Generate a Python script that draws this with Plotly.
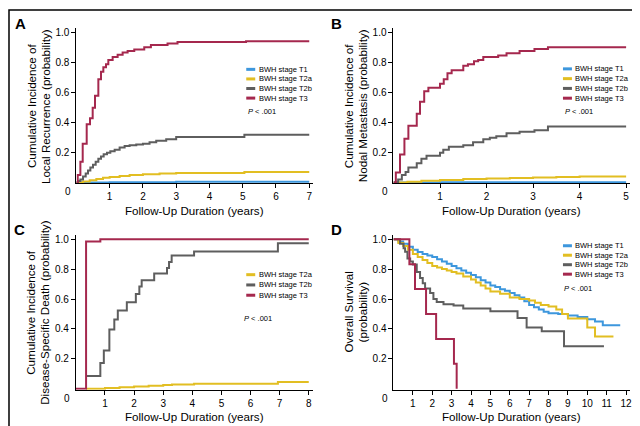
import plotly.graph_objects as go

# ---------------- data ----------------
# Panel A: cumulative incidence of local recurrence
a_t1_x = [0, 1.0, 3.0, 7.0]
a_t1_y = [0, 0.003, 0.005, 0.005]
a_t2a_x = [0, 0.2, 0.4, 0.6, 0.8, 1.0, 1.3, 1.6, 2.0, 2.5, 3.0, 5.05, 7.0]
a_t2a_y = [0, 0.008, 0.016, 0.024, 0.032, 0.038, 0.044, 0.05, 0.055, 0.06, 0.064, 0.07, 0.07]
a_t2b_x = [0, 0.05, 0.12, 0.2, 0.28, 0.35, 0.42, 0.5, 0.58, 0.66, 0.74, 0.82, 0.92, 1.02,
           1.15, 1.3, 1.45, 1.6, 1.8, 2.0, 2.2, 2.4, 2.7, 3.0, 5.05, 7.0]
a_t2b_y = [0, 0.01, 0.02, 0.04, 0.06, 0.08, 0.10, 0.12, 0.14, 0.16, 0.175, 0.19, 0.20, 0.21,
           0.22, 0.235, 0.245, 0.25, 0.255, 0.26, 0.27, 0.28, 0.29, 0.305, 0.32, 0.32]
a_t3_x = [0, 0.04, 0.12, 0.19, 0.31, 0.41, 0.49, 0.56, 0.66, 0.74, 0.81, 0.89, 0.96, 1.09,
          1.24, 1.39, 1.54, 1.74, 2.04, 2.24, 2.74, 3.04, 5.1, 7.0]
a_t3_y = [0, 0.05, 0.14, 0.26, 0.39, 0.43, 0.50, 0.58, 0.69, 0.74, 0.77, 0.79, 0.82, 0.84,
          0.855, 0.87, 0.88, 0.89, 0.905, 0.92, 0.93, 0.94, 0.945, 0.945]

# Panel B: cumulative incidence of nodal metastasis
b_t1_x = [0, 1.0, 5.0]
b_t1_y = [0, 0.003, 0.003]
b_t2a_x = [0, 0.3, 0.6, 1.0, 1.5, 2.0, 2.5, 3.0, 3.5, 4.0, 5.0]
b_t2a_y = [0, 0.006, 0.012, 0.018, 0.024, 0.028, 0.031, 0.034, 0.037, 0.04, 0.04]
b_t2b_x = [0, 0.1, 0.18, 0.26, 0.32, 0.5, 0.6, 0.71, 1.0, 1.07, 1.19, 1.5, 1.71, 1.93,
           2.07, 2.21, 2.43, 2.71, 3.03, 3.32, 5.0]
b_t2b_y = [0, 0.02, 0.05, 0.07, 0.10, 0.13, 0.16, 0.18, 0.20, 0.22, 0.24, 0.25, 0.27, 0.29,
           0.30, 0.31, 0.33, 0.34, 0.35, 0.375, 0.375]
b_t3_x = [0, 0.05, 0.14, 0.235, 0.32, 0.5, 0.57, 0.66, 0.75, 1.0, 1.08, 1.16, 1.25, 1.5,
          1.6, 1.73, 1.82, 1.93, 2.25, 2.43, 2.71, 3.03, 3.32, 5.0]
b_t3_y = [0, 0.067, 0.187, 0.293, 0.38, 0.46, 0.54, 0.61, 0.633, 0.66, 0.69, 0.73, 0.75, 0.78,
          0.79, 0.81, 0.82, 0.84, 0.85, 0.865, 0.88, 0.893, 0.905, 0.905]

# Panel C: cumulative incidence of disease-specific death
c_t2a_x = [0.35, 1.0, 1.5, 2.0, 2.5, 3.0, 3.3, 4.06, 6.94, 8.0]
c_t2a_y = [0, 0.005, 0.01, 0.015, 0.02, 0.025, 0.029, 0.033, 0.045, 0.045]
c_t2b_x = [0.35, 0.84, 0.96, 1.15, 1.32, 1.44, 1.75, 2.06, 2.18, 2.26, 2.69, 3.13, 3.2,
           3.29, 4.06, 6.94, 8.0]
c_t2b_y = [0.085, 0.173, 0.256, 0.396, 0.463, 0.523, 0.578, 0.633, 0.683, 0.725, 0.77, 0.807,
           0.847, 0.891, 0.918, 0.973, 0.973]
c_t3_x = [0, 0.35, 0.84, 8.0]
c_t3_y = [0, 0.985, 1.0, 1.0]

# Panel D: overall survival
d_t1_x = [0, 0.25, 0.5, 0.75, 1.0, 1.25, 1.5, 1.75, 2.0, 2.25, 2.5, 2.75, 3.0, 3.25, 3.5,
          3.75, 4.0, 4.25, 4.5, 4.75, 5.0, 5.25, 5.5, 5.75, 6.0, 6.25, 6.5, 6.75, 7.0, 7.25,
          7.5, 7.75, 8.0, 8.5, 9.0, 9.5, 10.0, 10.4, 10.8, 11.7]
d_t1_y = [1.0, 0.985, 0.97, 0.95, 0.93, 0.915, 0.9, 0.89, 0.88, 0.865, 0.85, 0.835, 0.82,
          0.805, 0.79, 0.775, 0.76, 0.745, 0.725, 0.71, 0.69, 0.68, 0.665, 0.655, 0.64, 0.625,
          0.61, 0.585, 0.56, 0.545, 0.53, 0.515, 0.505, 0.5, 0.49, 0.48, 0.465, 0.45, 0.425,
          0.425]
d_t2a_x = [0, 0.25, 0.5, 0.75, 1.0, 1.25, 1.5, 1.75, 2.0, 2.25, 2.5, 2.75, 3.0, 3.25, 3.6,
           4.0, 4.25, 4.5, 4.75, 5.0, 5.5, 6.0, 6.5, 7.0, 7.3, 7.6, 8.0, 8.4, 8.7, 9.0, 9.8,
           10.0, 10.4, 11.35]
d_t2a_y = [1.0, 0.975, 0.955, 0.93, 0.9, 0.88, 0.86, 0.84, 0.82, 0.81, 0.8, 0.79, 0.78,
           0.77, 0.75, 0.73, 0.71, 0.69, 0.67, 0.65, 0.635, 0.61, 0.6, 0.59, 0.575, 0.56,
           0.55, 0.53, 0.5, 0.47, 0.47, 0.41, 0.35, 0.35]
d_t2b_x = [0, 0.34, 0.52, 0.6, 0.72, 0.86, 1.0, 1.2, 1.37, 1.51, 1.63, 1.89, 2.06, 2.23,
           2.58, 3.1, 3.6, 5.0, 6.4, 6.87, 7.65, 8.8, 10.86]
d_t2b_y = [1.0, 0.97, 0.94, 0.916, 0.87, 0.85, 0.83, 0.78, 0.74, 0.705, 0.67, 0.64, 0.60,
           0.58, 0.565, 0.556, 0.536, 0.518, 0.473, 0.41, 0.385, 0.285, 0.285]
d_t3_x = [0, 0.82, 1.11, 1.68, 2.2, 3.12, 3.26]
d_t3_y = [1.0, 0.833, 0.667, 0.5, 0.333, 0.167, 0.0]

x_ticks_a = [1, 2, 3, 4, 5, 6, 7]
x_ticks_b = [1, 2, 3, 4, 5]
x_ticks_c = [1, 2, 3, 4, 5, 6, 7, 8]
x_ticks_d = [1, 2, 3, 4, 5, 6, 7, 8, 9, 10, 11, 12]
y_ticks = [0.2, 0.4, 0.6, 0.8, 1.0]
y_tick_text = ["0.2", "0.4", "0.6", "0.8", "1.0"]

names = {"t1": "BWH stage T1", "t2a": "BWH stage T2a", "t2b": "BWH stage T2b", "t3": "BWH stage T3"}
colors = {"t1": "#3D97DD", "t2a": "#E2BE22", "t2b": "#5E5E5E", "t3": "#A5284E"}

# ---------------- layout geometry ----------------
W, H = 640, 426
SANS = "Liberation Sans, Arial, Helvetica, sans-serif"


def px(x):
    return x / W


def py(y):
    return 1 - y / H


panels = [
    dict(key="a", series=[("t1", a_t1_x, a_t1_y), ("t2a", a_t2a_x, a_t2a_y),
                          ("t2b", a_t2b_x, a_t2b_y), ("t3", a_t3_x, a_t3_y)],
         x0=68.6, sx=33.37, xr=[0, 7.1], y0=174, sy=150, xt=x_ticks_a,
         ytitle=["Cumulative Incidence of", "Local Recurrence (probability)"],
         letter="A", lpos=(12.8, 14.2), leg=(239, 60.5, 9.6), pval=(239, 102.5)),
    dict(key="b", series=[("t1", b_t1_x, b_t1_y), ("t2a", b_t2a_x, b_t2a_y),
                          ("t2b", b_t2b_x, b_t2b_y), ("t3", b_t3_x, b_t3_y)],
         x0=386.7, sx=46.67, xr=[0, 5.08], y0=174, sy=150, xt=x_ticks_b,
         ytitle=["Cumulative Incidence of", "Nodal Metastasis (probability)"],
         letter="B", lpos=(330, 14.2), leg=(556.7, 60, 9.8), pval=(556.7, 103)),
    dict(key="c", series=[("t2a", c_t2a_x, c_t2a_y), ("t2b", c_t2b_x, c_t2b_y),
                          ("t3", c_t3_x, c_t3_y)],
         x0=68.1, sx=29.2, xr=[0, 8.15], y0=380.7, sy=150, xt=x_ticks_c,
         ytitle=["Cumulative Incidence of", "Disease-Specific Death (probability)"],
         letter="C", lpos=(11.7, 221), leg=(239, 266.3, 10.3), pval=(235, 310.7)),
    dict(key="d", series=[("t1", d_t1_x, d_t1_y), ("t2a", d_t2a_x, d_t2a_y),
                          ("t2b", d_t2b_x, d_t2b_y), ("t3", d_t3_x, d_t3_y)],
         x0=386.7, sx=19.44, xr=[0, 12.2], y0=380.7, sy=150, xt=x_ticks_d,
         ytitle=["Overall Survival", "(probability)"],
         letter="D", lpos=(330, 221), leg=(556.7, 237.3, 9.5), pval=(556, 279.7)),
]

fig = go.Figure()
annotations = []
shapes = []
yr = [-0.006, 1.03]


def note(x, y, text, font, xanchor="center", angle=0):
    return dict(x=px(x), y=py(y), xref="paper", yref="paper", text=text, showarrow=False,
                xanchor=xanchor, yanchor="middle", textangle=angle, font=font)


f_tick = dict(family=SANS, size=10, color="black")
f_title = dict(family=SANS, size=11.6, color="black")
f_leg = dict(family=SANS, size=7.5, color="black")

for i, p in enumerate(panels):
    n = "" if i == 0 else str(i + 1)
    xa, ya = "x" + n, "y" + n
    for code, xs, ys in p["series"]:
        fig.add_trace(go.Scatter(x=xs, y=ys, mode="lines", line_shape="hv",
                                 line=dict(color=colors[code], width=2),
                                 name=names[code], showlegend=False,
                                 xaxis=xa, yaxis=ya, hoverinfo="skip"))
    xdom = [px(p["x0"] + p["xr"][0] * p["sx"]), px(p["x0"] + p["xr"][1] * p["sx"])]
    ydom = [py(p["y0"] - yr[0] * p["sy"]), py(p["y0"] - yr[1] * p["sy"])]
    common = dict(showline=True, linecolor="black", linewidth=1, ticks="outside",
                  ticklen=4, tickwidth=1, tickcolor="black", showgrid=False,
                  zeroline=False, tickfont=f_tick, fixedrange=True)
    fig.update_layout(**{
        "xaxis" + n: dict(domain=xdom, range=p["xr"], anchor=ya, tickvals=p["xt"], **common),
        "yaxis" + n: dict(domain=ydom, range=yr, anchor=xa, tickvals=y_ticks,
                          ticktext=y_tick_text, **common),
    })
    # corner "0"
    annotations.append(note(p["x0"] - 8.5, p["y0"] + 9.3, "0", f_tick))
    # x title
    xmid = p["x0"] + (p["xr"][1] * p["sx"]) / 2
    annotations.append(note(xmid, p["y0"] + 28, "Follow-Up Duration (years)", f_title))
    # y title (two lines)
    ymid = p["y0"] - 0.5 * (yr[1] - yr[0]) * p["sy"] + 1
    for k, line in enumerate(p["ytitle"]):
        annotations.append(note(p["x0"] - 45.5 + 14 * k, ymid, line, f_title, angle=-90))
    # panel letter
    annotations.append(note(p["lpos"][0], p["lpos"][1], "<b>" + p["letter"] + "</b>",
                            dict(family=SANS, size=15, color="black")))
    # legend (manual, compact)
    lx, ly, dy = p["leg"]
    for k, (code, _, _) in enumerate(p["series"]):
        yy = ly + k * dy
        shapes.append(dict(type="line", xref="paper", yref="paper", x0=px(lx), x1=px(lx + 9),
                           y0=py(yy), y1=py(yy), line=dict(color=colors[code], width=3)))
        annotations.append(note(lx + 10.5, yy, names[code], f_leg, xanchor="left"))
    annotations.append(note(p["pval"][0], p["pval"][1], "<i>P</i> < .001", f_leg,
                            xanchor="left"))

# outer frame
shapes.append(dict(type="rect", xref="paper", yref="paper", x0=px(1), x1=px(638.5),
                   y0=py(424.5), y1=py(1), line=dict(color="black", width=1.5)))

fig.update_layout(width=W, height=H, margin=dict(l=0, r=0, t=0, b=0),
                  paper_bgcolor="white", plot_bgcolor="white",
                  annotations=annotations, shapes=shapes, showlegend=False)

fig.write_html("out.html")
